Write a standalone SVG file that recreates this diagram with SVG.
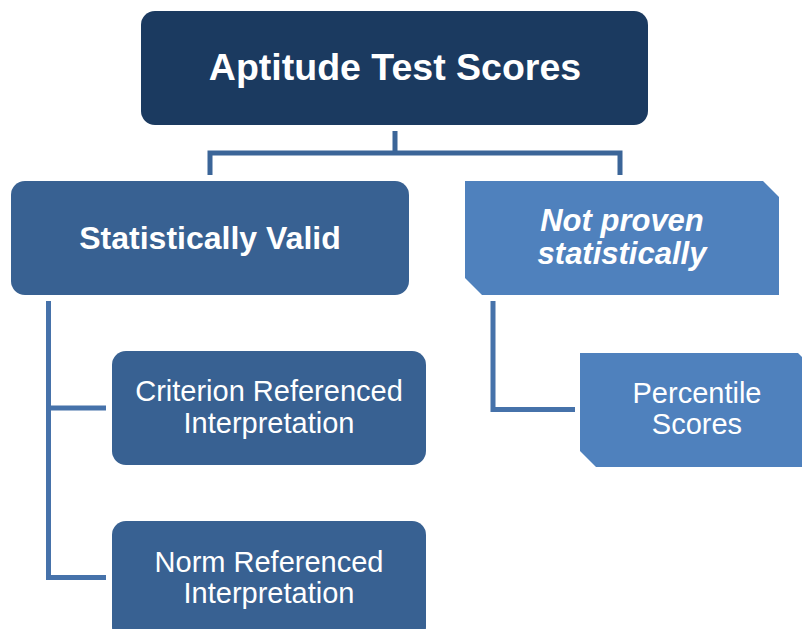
<svg xmlns="http://www.w3.org/2000/svg" width="802" height="629" viewBox="0 0 802 629">
<style>
.lbl{font-family:"Liberation Sans",Arial,sans-serif;fill:#fff;text-anchor:middle}
.b{font-weight:bold}
.i{font-style:italic}
.conn{fill:none;stroke:#4672aa;stroke-width:5;stroke-linejoin:miter;stroke-linecap:butt}
</style>
<rect width="802" height="629" fill="#fff"/>
<g id="connectors">
<path class="conn" style="stroke:#3b6598" d="M395 131V153M210 175V153H620V175"/>
<path class="conn" d="M48.5 301V577.5H106M48.5 408H106"/>
<path class="conn" d="M493 301V409.5H575"/>
</g>
<g id="n-aptitude">
<rect x="141" y="11" width="507" height="114" rx="14" fill="#1b3a60"/>
<text class="lbl b" x="395" y="80" font-size="37.5">Aptitude Test Scores</text>
</g>
<g id="n-valid">
<rect x="11" y="181" width="398" height="114" rx="14" fill="#386192"/>
<text class="lbl b" x="210" y="249" font-size="32">Statistically Valid</text>
</g>
<g id="n-notproven">
<polygon points="465,181 763,181 779,197 779,295 482,295 465,278" fill="#4f81bd"/>
<text class="lbl b i" x="622" y="231" font-size="31">Not proven</text>
<text class="lbl b i" x="622" y="264" font-size="31">statistically</text>
</g>
<g id="n-criterion">
<rect x="112" y="351" width="314" height="114" rx="14" fill="#386192"/>
<text class="lbl" x="269" y="401" font-size="29">Criterion Referenced</text>
<text class="lbl" x="269" y="433" font-size="29">Interpretation</text>
</g>
<g id="n-norm">
<rect x="112" y="521" width="314" height="120" rx="14" fill="#386192"/>
<text class="lbl" x="269" y="572" font-size="29">Norm Referenced</text>
<text class="lbl" x="269" y="603" font-size="29">Interpretation</text>
</g>
<g id="n-percentile">
<polygon points="580,353 798,353 814,369 814,467 596,467 580,451" fill="#4f81bd"/>
<text class="lbl" x="697" y="403" font-size="29">Percentile</text>
<text class="lbl" x="697" y="434" font-size="29">Scores</text>
</g>
</svg>
